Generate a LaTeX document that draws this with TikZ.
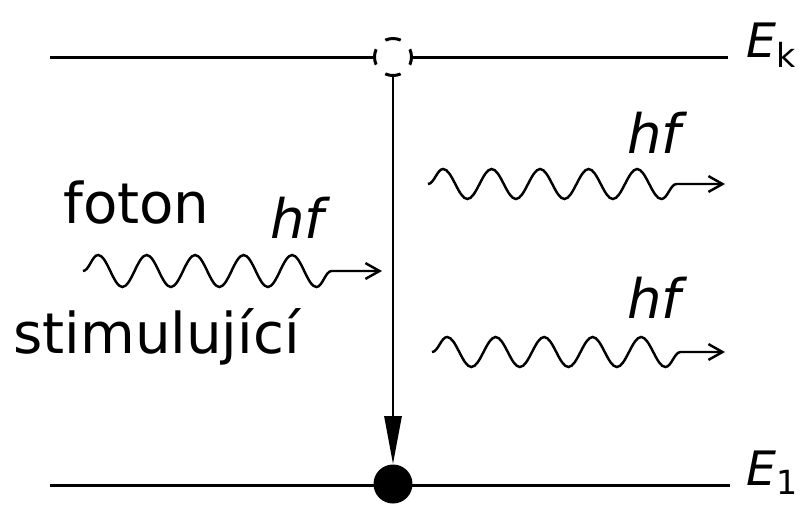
\documentclass[tikz,border=0pt]{standalone}
\usepackage{fontspec}
\setmainfont{DejaVu Sans}
\usepackage{tikz}
\usetikzlibrary{positioning,arrows.meta,decorations.pathmorphing}

\begin{document}
\begin{tikzpicture}[
    x=0.02cm, y=-0.02cm,
    level/.style={line width=1.7pt},
    txt/.style={font=\fontsize{32}{36}\selectfont, inner sep=0pt, anchor=base west},
    quantum/.style={font=\fontsize{31}{36}\selectfont\itshape, inner sep=0pt, anchor=base west},
    energy/.style={font=\fontsize{27}{30}\selectfont\itshape, inner sep=0pt, anchor=base west},
    photon/.style={line width=1.4pt, -{Straight Barb[length=8pt,width=9pt]},
        decorate, decoration={snake, segment length=0.97cm, amplitude=#1, post length=0.7cm}},
    photon/.default={0.3cm},
    excited/.style={circle, draw, line width=1.7pt, dash pattern=on 9pt off 7.5pt, dash phase=4.5pt,
        fill=white, minimum size=0.74cm, inner sep=0pt},
    ground/.style={circle, fill=black, minimum size=0.78cm, inner sep=0pt},
    drop/.style={line width=1.6pt, -{Triangle[length=0.96cm, width=0.34cm]}},
]
\useasboundingbox (0,0) rectangle (802,505);

% ===== LEVELS =====
\coordinate (k0) at (50,57);
\coordinate (k1) at (728,57);
\coordinate (g0) at (50,485);
\coordinate (g1) at (730,485);
\draw[level] (k0) -- (k1);
\draw[level] (g0) -- (g1);
\node[energy] (ek) at (746,57) {E\textsubscript{\upshape k}};
\node[energy] (eone) at (746,485) {E\textsubscript{\upshape 1}};

\node[excited] (upper) at (393,57) {};
\node[ground] (lower) at (393,484) {};
\draw[drop] (upper.south) -- (lower.north);

% ===== PHOTONS =====
\node[txt] (foton) at (63,223) {foton};
\node[txt] (stim) at (13,353) {stimulující};
\node[quantum] (hfin) at (270,238) {hf};
\node[quantum] (hfup) at (627,153) {hf};
\node[quantum] (hfdown) at (627,318) {hf};

\coordinate (inA) at (83,271);
\coordinate (inB) at (382,271);
\coordinate (upA) at (428,184);
\coordinate (upB) at (725,184);
\coordinate (dnA) at (432,352);
\coordinate (dnB) at (725,352);
\draw[photon=0.32cm] (inA) -- (inB);
\draw[photon] (upA) -- (upB);
\draw[photon] (dnA) -- (dnB);

\end{tikzpicture}
\end{document}
